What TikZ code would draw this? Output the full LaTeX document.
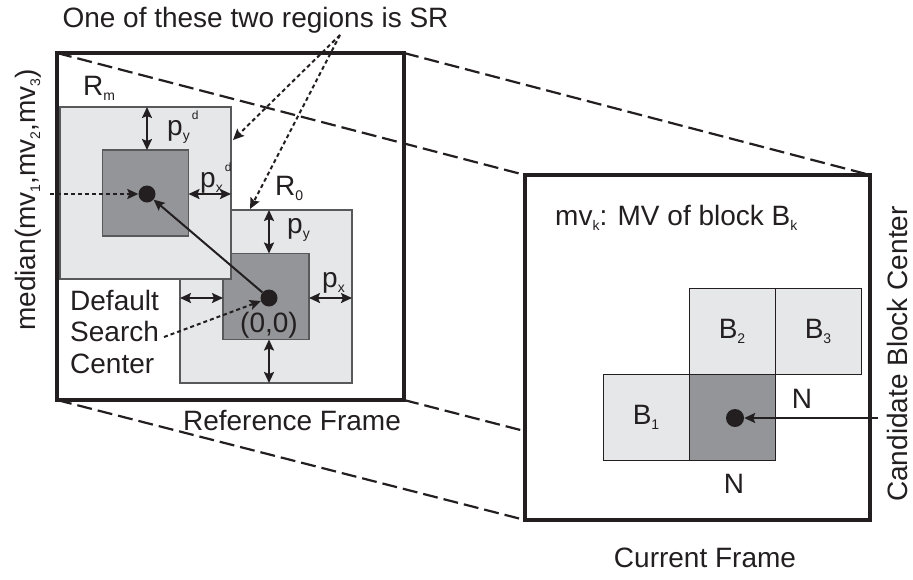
\documentclass[tikz,border=0pt]{standalone}
\usepackage{fontspec}
\setmainfont{Liberation Sans}
\usetikzlibrary{arrows.meta,positioning,backgrounds}
\definecolor{ink}{RGB}{35,31,32}
\definecolor{lightbox}{RGB}{230,231,232}
\definecolor{darkbox}{RGB}{147,149,152}
\definecolor{edge}{RGB}{88,89,91}
\newcommand{\lowtxt}[1]{\raisebox{-5pt}{\fontsize{14}{14}\selectfont #1}}
\newcommand{\hightxt}[1]{\hspace{2pt}\raisebox{16pt}{\fontsize{12}{12}\selectfont #1}}

\begin{document}
\begin{tikzpicture}[
    x=1pt, y=-1pt,
    >={Stealth[length=11pt,width=10pt,inset=2pt]},
    every node/.style={text=ink, font=\fontsize{28}{31.5}\selectfont},
    frame/.style={rectangle, draw=ink, line width=3.2pt, inner sep=0pt, outer sep=0pt},
    region/.style={rectangle, draw=edge, line width=1.2pt, fill=lightbox, inner sep=0pt, outer sep=0pt},
    core/.style={rectangle, draw=edge, line width=1.2pt, fill=darkbox, minimum size=86pt, inner sep=0pt, outer sep=0pt},
    dot/.style={circle, fill=ink, inner sep=0pt, minimum size=17pt},
    lbl/.style={anchor=base west, inner sep=0pt},
    span/.style={<->, draw=ink, line width=2pt},
    arrow/.style={->, draw=ink, line width=2pt},
    hint/.style={->, draw=ink, line width=2pt, dash pattern=on 4pt off 3pt},
    proj/.style={draw=ink, line width=2.2pt, dash pattern=on 15pt off 6pt}
]
    \useasboundingbox (0,0) rectangle (913,579);

    % the two frames
    \node[frame, minimum width=347pt, minimum height=347pt] (refframe) at (230.5,226.5) {};
    \node[frame, fill=white, minimum width=345pt, minimum height=345pt] (curframe) at (697.5,347.5) {};
    \begin{scope}[on background layer]
        \draw[proj] (refframe.north west) -- (curframe.north west);
        \draw[proj] (refframe.north east) -- (curframe.north east);
        \draw[proj] (refframe.south west) -- (curframe.south west);
        \draw[proj] (refframe.south east) -- (curframe.south east);
    \end{scope}

    % search regions in the reference frame
    \node[region, minimum width=172pt, minimum height=173pt] (R0) at (266,296.5) {};
    \node[core] (R0c) at (R0.center) {};
    \node[region, minimum width=171pt, minimum height=172pt] (Rm) at (145.5,193) {};
    \node[core] (Rmc) at (Rm.center) {};
    \node[dot] (mdot) at (147,194) {};
    \node[dot] (zdot) at (269,298) {};

    \draw[span] (Rm.north -| mdot) -- (Rmc.north -| mdot);
    \draw[span] (Rmc.east |- mdot) -- (Rm.east |- mdot);
    \draw[span] (R0.north -| zdot) -- (R0c.north -| zdot);
    \draw[span] (R0c.east |- zdot) -- (R0.east |- zdot);
    \draw[span] (R0.west |- zdot) -- (R0c.west |- zdot);
    \draw[span] (R0c.south -| zdot) -- (R0.south -| zdot);
    \draw[arrow] (zdot) -- (mdot);

    \node[lbl] (rmlbl) at (83,95) {R\lowtxt{m}};
    \node[lbl] (pydlbl) at (167,135) {p\lowtxt{y}\hightxt{d}};
    \node[lbl] (pxdlbl) at (200,187) {p\lowtxt{x}\hightxt{d}};
    \node[lbl] (r0lbl) at (275,195) {R\lowtxt{0}};
    \node[lbl] (pylbl) at (287,233) {p\lowtxt{y}};
    \node[lbl] (pxlbl) at (322,287) {p\lowtxt{x}};
    \node[anchor=base, inner sep=0pt] (origin) at (269,332) {(0,0)};
    \node[anchor=west, inner sep=0pt, align=left] (dsc) at (70,331.5) {Default\\Search\\Center};
    \node[anchor=base, inner sep=0pt] (reflbl) at (292,430) {Reference Frame};
    \node[anchor=base, inner sep=0pt] (srlbl) at (255.5,27) {One of these two regions is SR};
    \node[rotate=90, inner sep=0pt] (medlbl) at (28,200) {median(mv\lowtxt{1},mv\lowtxt{2},mv\lowtxt{3})};

    % pointers
    \coordinate (srtip) at (340,35);
    \coordinate (rmhit) at (233,140);
    \coordinate (r0hit) at (250,209);
    \coordinate (medstart) at (50,194);
    \coordinate (dscend) at (164,337);
    \draw[hint] (srtip) -- (rmhit);
    \draw[hint] (srtip) -- (r0hit);
    \draw[hint] (medstart) -- (mdot);
    \draw[hint] (dscend) -- (zdot);

    % blocks in the current frame
    \node[core, draw=ink, line width=1pt] (cblk) at (732,417) {};
    \node[region, draw=ink, line width=1pt, minimum size=86pt, left=0pt of cblk] (b1) {B\lowtxt{1}};
    \node[region, draw=ink, line width=1pt, minimum size=86pt, above=0pt of cblk] (b2) {B\lowtxt{2}};
    \node[region, draw=ink, line width=1pt, minimum size=86pt, right=0pt of b2] (b3) {B\lowtxt{3}};
    \node[dot, minimum size=18pt] (cdot) at (735,418) {};
    \node[lbl] (mvlbl) at (555,225) {mv\lowtxt{k}: MV of block B\lowtxt{k}};
    \node[anchor=base, inner sep=0pt] (nright) at (802,408) {N};
    \node[anchor=base, inner sep=0pt] (nbelow) at (734,493) {N};
    \coordinate (candstart) at (878,418);
    \draw[arrow] (candstart) -- (cdot);
    \node[rotate=90, inner sep=0pt] (candlbl) at (897,354) {Candidate Block Center};
    \node[anchor=base, inner sep=0pt] (curlbl) at (705,567) {Current Frame};
\end{tikzpicture}
\end{document}
